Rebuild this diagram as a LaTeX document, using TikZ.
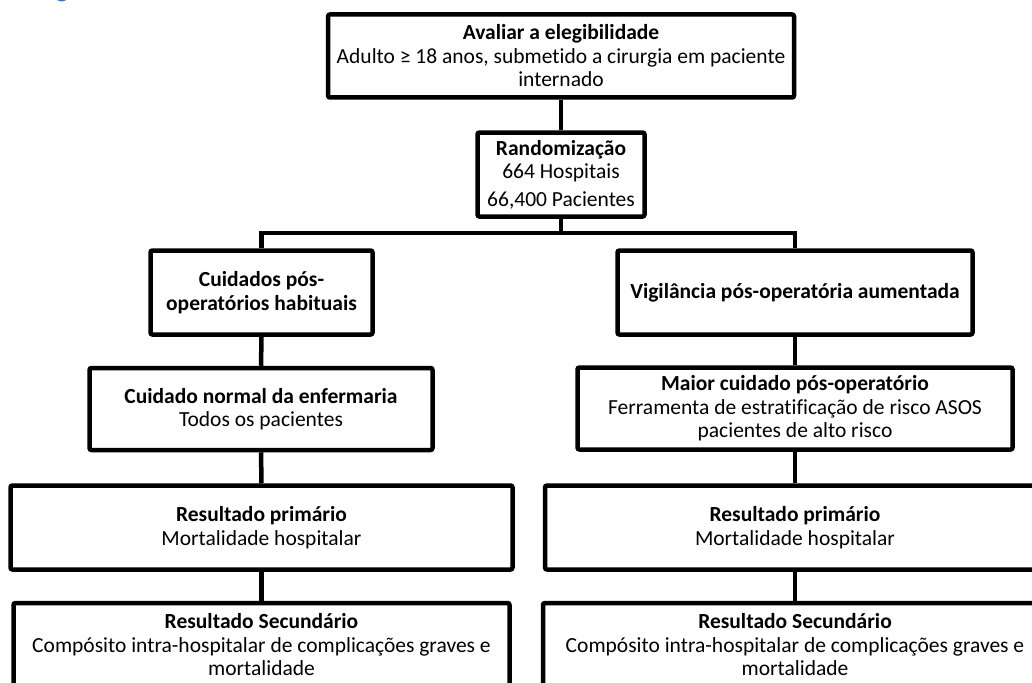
\documentclass[tikz,border=0pt]{standalone}
\usepackage{fontspec}
\setmainfont{Carlito}[Ligatures={NoCommon}]
\definecolor{heading}{RGB}{68, 114, 196}

\begin{document}
\begin{tikzpicture}[x=1pt, y=-1pt,
      box/.style={draw, line width=4.5pt, rounded corners=2pt, align=center, inner sep=2pt,
        font=\fontsize{21.5}{23.5}\selectfont},
      line/.style={line width=4.5pt}
    ]
      \useasboundingbox (0,0) rectangle (1032,682);

      % Heading (cut off)
      \node[anchor=base, text=heading, font=\bfseries\fontsize{26}{30}\selectfont, inner sep=0pt] (heading) at (62,-2) {g};

      % Eligibility
      \node[box, minimum width=466pt, minimum height=83pt] (elig) at (561,56)
        {\textbf{Avaliar a elegibilidade}\\Adulto ≥ 18 anos, submetido a cirurgia em paciente\\internado};

      % Randomisation
      \node[box, minimum width=167pt, minimum height=84pt] (rand) at (561,174.5)
        {\textbf{Randomização}\\664 Hospitais\\[4pt]66,400 Pacientes};
      \coordinate (split) at (561,233);

      % Usual care arm
      \node[box, minimum width=222pt, minimum height=84pt] (usual) at (261.5,292.5)
        {\textbf{Cuidados pós-}\\\textbf{operatórios habituais}};
      \node[box, minimum width=343pt, minimum height=82pt] (ward) at (261,409)
        {\textbf{Cuidado normal da enfermaria}\\Todos os pacientes};
      \node[box, minimum width=502pt, minimum height=84pt] (primL) at (261.5,527.5)
        {\textbf{Resultado primário}\\Mortalidade hospitalar};
      \node[box, minimum width=496pt, minimum height=84pt] (secL) at (261.5,645)
        {\textbf{Resultado Secundário}\\Compósito intra-hospitalar de complicações graves e\\mortalidade};

      % Enhanced surveillance arm
      \node[box, minimum width=355pt, minimum height=84pt] (surv) at (795,292.5)
        {\textbf{Vigilância pós-operatória aumentada}};
      \node[box, minimum width=435pt, minimum height=82pt] (care) at (795,408.5)
        {\textbf{Maior cuidado pós-operatório}\\Ferramenta de estratificação de risco ASOS\\pacientes de alto risco};
      \node[box, minimum width=500pt, minimum height=84pt] (primR) at (795,527.5)
        {\textbf{Resultado primário}\\Mortalidade hospitalar};
      \node[box, minimum width=504pt, minimum height=84pt] (secR) at (795,645)
        {\textbf{Resultado Secundário}\\Compósito intra-hospitalar de complicações graves e\\mortalidade};

      % Connectors
      \draw[line] (elig) -- (rand);
      \draw[line] (rand) -- (split);
      \draw[line] (split) -| (usual.north);
      \draw[line] (split) -| (surv.north);
      \draw[line] (usual) -- (ward);
      \draw[line] (ward) -- (primL);
      \draw[line] (primL) -- (secL);
      \draw[line] (surv) -- (care);
      \draw[line] (care) -- (primR);
      \draw[line] (primR) -- (secR);
    \end{tikzpicture}
\end{document}
